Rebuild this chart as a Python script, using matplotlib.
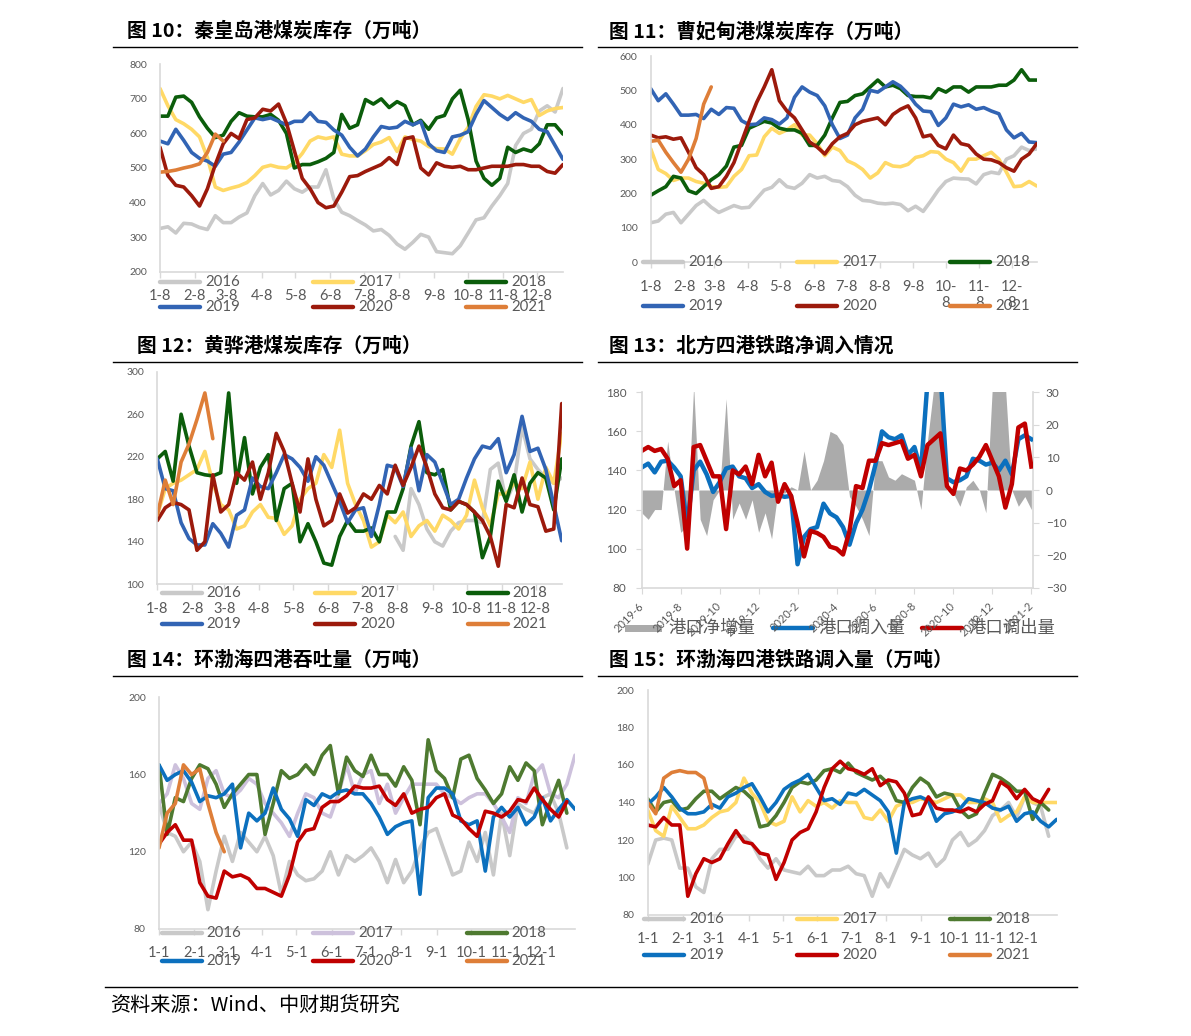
import numpy as np
import matplotlib
matplotlib.use('Agg')
import matplotlib.pyplot as plt

nan = np.nan

# ---------------- data ----------------
years = ['2016', '2017', '2018', '2019', '2020', '2021']

# 图10 秦皇岛港煤炭库存（万吨），weekly from 1-8
qhd_2016 = [325, 330, 312, 340, 338, 328, 322, 362, 342, 342, 358, 370, 420, 455, 422, 435, 462, 440, 430, 445,
            445, 495, 410, 372, 362, 348, 335, 318, 322, 305, 280, 265, 285, 308, 300, 258, 255, 252, 275, 312,
            350, 356, 390, 420, 455, 565, 600, 612, 665, 680, 662, 730]
qhd_2017 = [730, 680, 640, 628, 612, 590, 530, 445, 435, 442, 448, 458, 478, 502, 508, 502, 500, 515, 542, 578,
            590, 585, 590, 540, 535, 535, 550, 568, 575, 588, 548, 590, 582, 578, 562, 556, 555, 540, 585, 618,
            678, 712, 708, 700, 710, 700, 690, 698, 652, 665, 672, 675]
qhd_2018 = [650, 650, 705, 708, 690, 648, 615, 588, 595, 635, 660, 650, 648, 648, 655, 638, 600, 500, 510, 510,
            518, 528, 545, 655, 615, 625, 698, 685, 700, 675, 692, 680, 625, 638, 612, 645, 652, 700, 725, 640,
            520, 470, 450, 470, 560, 545, 555, 548, 570, 625, 625, 598]
qhd_2019 = [578, 570, 612, 580, 545, 528, 520, 505, 540, 545, 575, 610, 645, 640, 645, 635, 625, 635, 635, 660,
            635, 632, 610, 595, 560, 535, 555, 590, 620, 615, 618, 635, 625, 635, 570, 550, 545, 590, 595, 605,
            655, 695, 675, 655, 640, 660, 645, 635, 612, 605, 565, 525]
qhd_2020 = [560, 478, 450, 445, 420, 390, 440, 510, 570, 600, 585, 640, 645, 670, 665, 685, 630, 550, 470, 440,
            400, 385, 390, 430, 475, 478, 490, 500, 510, 530, 510, 585, 590, 500, 480, 515, 505, 502, 505, 495,
            495, 500, 505, 505, 505, 510, 510, 505, 505, 490, 485, 510]
qhd_2021 = [488, 490, 494, 500, 505, 512, 545, 598, 578]

# 图11 曹妃甸港煤炭库存（万吨）
cfd_2016 = [115, 120, 140, 145, 115, 140, 165, 180, 160, 145, 155, 165, 158, 160, 185, 210, 218, 240, 220, 215,
            230, 255, 245, 250, 238, 235, 220, 195, 180, 178, 172, 170, 172, 168, 150, 163, 148, 178, 210, 235,
            245, 243, 242, 228, 255, 262, 258, 300, 310, 335, 325, 330]
cfd_2017 = [330, 270, 258, 238, 245, 245, 235, 230, 220, 218, 220, 250, 270, 310, 312, 365, 390, 375, 385, 400,
            370, 370, 345, 310, 335, 325, 295, 285, 270, 245, 260, 290, 280, 278, 285, 305, 310, 322, 320, 300,
            290, 265, 300, 300, 310, 320, 300, 262, 220, 222, 235, 222]
cfd_2018 = [195, 208, 220, 250, 245, 208, 200, 220, 240, 255, 280, 335, 340, 390, 400, 410, 405, 390, 385, 385,
            375, 340, 340, 370, 420, 465, 468, 485, 490, 510, 530, 510, 515, 505, 485, 482, 482, 478, 505, 495,
            510, 510, 495, 510, 510, 510, 515, 515, 530, 560, 530, 530]
cfd_2019 = [505, 470, 490, 460, 428, 428, 430, 418, 445, 430, 450, 448, 412, 400, 402, 420, 415, 402, 420, 480,
            510, 495, 485, 455, 400, 360, 370, 420, 445, 500, 495, 510, 525, 512, 490, 460, 440, 438, 398, 420,
            460, 452, 458, 445, 450, 440, 432, 385, 362, 375, 350, 348]
cfd_2020 = [370, 362, 365, 358, 362, 320, 275, 255, 215, 220, 250, 290, 350, 410, 465, 510, 560, 470, 440, 420,
            385, 350, 335, 315, 345, 365, 375, 400, 410, 415, 420, 400, 430, 445, 455, 420, 365, 370, 340, 330,
            370, 345, 340, 315, 300, 298, 290, 275, 265, 300, 315, 345]
cfd_2021 = [352, 355, 320, 290, 262, 300, 360, 460, 510]

# 图12 黄骅港煤炭库存（万吨）
hh_2016 = [nan] * 30 + [145, 132, 190, 175, 152, 140, 136, 150, 158, 160, 160, 158, 208, 214, 178, 195, 248, 218,
                        208, 200, 195, 200]
hh_2017 = [165, 190, 195, 198, 203, 208, 225, 195, 175, 170, 152, 155, 168, 175, 163, 162, 147, 155, 180, 190,
           195, 222, 210, 245, 195, 175, 160, 135, 140, 165, 158, 168, 145, 155, 160, 150, 165, 160, 152, 165,
           198, 172, 155, 185, 185, 195, 190, 215, 180, 210, 195, 242]
hh_2018 = [218, 225, 197, 260, 230, 205, 203, 202, 205, 280, 195, 238, 185, 210, 222, 160, 190, 195, 140, 157,
           140, 120, 118, 145, 160, 150, 150, 153, 140, 168, 168, 190, 230, 253, 205, 203, 208, 170, 178, 175,
           168, 125, 145, 197, 178, 203, 168, 195, 205, 200, 170, 218]
hh_2019 = [218, 190, 188, 158, 143, 137, 137, 157, 148, 135, 165, 170, 200, 192, 190, 205, 222, 218, 210, 197,
           220, 212, 195, 178, 158, 170, 172, 145, 175, 212, 210, 192, 228, 188, 222, 215, 195, 175, 180, 200,
           218, 230, 228, 237, 205, 222, 258, 225, 228, 208, 175, 141]
hh_2020 = [160, 172, 177, 175, 170, 132, 140, 203, 168, 175, 205, 198, 215, 180, 205, 242, 225, 195, 168, 218,
           180, 155, 160, 185, 167, 172, 185, 180, 193, 185, 212, 193, 210, 230, 210, 185, 172, 170, 178, 175,
           168, 160, 145, 117, 175, 172, 200, 175, 173, 150, 152, 270]
hh_2021 = [165, 198, 175, 215, 232, 255, 280, 237]

# 图13 北方四港铁路净调入情况, every 1/3 month from 2019-6
port_in = [141.5, 143.5, 139, 144.5, 145, 141.5, 137, 112, 140, 144.5, 138, 129, 134, 141, 142, 137, 136, 131,
           133, 129, 127, 127.5, 126.5, 127, 92, 106, 110, 111, 123, 118, 116, 111, 102, 113, 120, 130, 143,
           160, 157, 156, 158, 148, 152, 140, 185, 200, 190, 136, 134, 135, 137, 146, 145, 143, 144, 140, 145,
           138, 156, 158, 156]
port_out = [150, 152, 150, 151, 146, 132, 135, 100, 152, 153, 145, 137, 137, 110, 140, 138, 142, 133, 148, 137,
            144, 124, 133, 127, 113, 96, 109, 108, 106, 101, 100, 97, 109, 132, 131, 145, 145, 154, 153, 154,
            155, 146, 148, 137, 153, 156, 159, 132, 128, 141, 140, 143, 147, 153, 145, 137, 121, 133, 162, 164,
            142]
port_net = [-7, -9, -6, -6, 15, 0, -13, -11, 32, -9, -14, -3, 0, 28, -9, -4, -9, -3, -13, -7, -15, 0, -1, 1, 0,
            12, 0, 3, 9, 18, 17, 14, -2, -5, -9, -14, 9, 9, 4, 3, 5, 4, 3, -6, 15, 32, 32, 0, -1, -5, 1, 3, 0,
            -7, 32, 32, 32, 0, -5, -2, -6]
month_labels = ['2019-6', '2019-8', '2019-10', '2019-12', '2020-2', '2020-4', '2020-6', '2020-8', '2020-10',
                '2020-12', '2021-2']

# 图14 环渤海四港吞吐量（万吨）
bh_2016 = [145, 130, 128, 120, 125, 115, 90, 110, 128, 115, 130, 125, 120, 128, 118, 98, 115, 108, 105, 106,
           110, 120, 108, 118, 115, 118, 122, 115, 104, 116, 104, 110, 122, 130, 132, 120, 108, 110, 125, 115,
           130, 108, 140, 118, 145, 142, 140, 148, 150, 140, 122]
bh_2017 = [145, 150, 165, 158, 145, 142, 158, 162, 150, 148, 152, 158, 155, 145, 140, 135, 128, 140, 150, 148,
           140, 138, 150, 165, 150, 160, 162, 145, 155, 140, 148, 155, 155, 155, 155, 150, 148, 145, 148, 150,
           150, 145, 138, 130, 148, 145, 160, 165, 150, 148, 155, 170]
bh_2018 = [165, 129, 148, 146, 158, 165, 163, 155, 143, 150, 155, 160, 160, 129, 145, 162, 158, 160, 165, 160,
           170, 175, 150, 169, 162, 159, 170, 160, 160, 154, 164, 157, 134, 178, 162, 158, 148, 168, 170, 158,
           152, 145, 150, 164, 157, 166, 162, 134, 146, 157, 140]
bh_2019 = [165, 157, 160, 162, 156, 146, 149, 148, 150, 155, 122, 140, 136, 140, 153, 142, 137, 128, 147, 144,
           150, 148, 151, 152, 150, 150, 145, 138, 129, 133, 135, 136, 98, 148, 153, 153, 150, 136, 134, 136,
           110, 138, 143, 138, 143, 134, 138, 148, 136, 142, 147, 142]
bh_2020 = [124, 130, 134, 126, 126, 104, 97, 96, 110, 107, 108, 106, 101, 101, 99, 97, 108, 125, 131, 132,
           143, 146, 146, 149, 154, 153, 153, 154, 147, 144, 150, 140, 142, 143, 148, 150, 139, 137, 132, 128,
           141, 140, 138, 141, 147, 146, 153, 147, 142, 138, 146]
bh_2021 = [122, 140, 145, 165, 160, 163, 145, 130, 120]

# 图15 环渤海四港铁路调入量（万吨）
br_2016 = [107, 120, 121, 120, 105, 105, 95, 92, 110, 115, 115, 122, 122, 118, 110, 105, 110, 104, 103, 102,
           106, 101, 101, 104, 104, 106, 102, 101, 90, 102, 95, 105, 115, 112, 110, 113, 106, 110, 120, 124,
           117, 120, 125, 133, 136, 140, 132, 143, 140, 138, 122]
br_2017 = [136, 125, 122, 138, 132, 126, 126, 128, 132, 135, 136, 140, 153, 145, 140, 130, 128, 130, 143, 135,
           141, 138, 140, 137, 141, 140, 140, 132, 131, 136, 130, 138, 140, 140, 142, 141, 140, 142, 144, 144,
           140, 140, 142, 140, 130, 133, 135, 143, 140, 140, 140, 140]
br_2018 = [142, 135, 140, 141, 136, 137, 142, 146, 146, 142, 145, 148, 146, 142, 127, 128, 133, 140, 148, 151,
           150, 152, 157, 158, 156, 161, 156, 154, 152, 154, 150, 141, 140, 148, 153, 150, 143, 145, 144, 136,
           132, 134, 145, 155, 153, 150, 146, 146, 131, 140, 136]
br_2019 = [139, 143, 148, 143, 137, 134, 134, 135, 139, 137, 143, 145, 148, 150, 143, 135, 140, 147, 150, 152,
           155, 148, 141, 142, 139, 145, 144, 147, 144, 141, 135, 113, 140, 142, 143, 141, 130, 134, 135, 137,
           142, 141, 140, 137, 136, 138, 130, 134, 135, 130, 127, 131]
br_2020 = [128, 127, 132, 128, 128, 90, 102, 110, 108, 110, 118, 125, 119, 118, 113, 112, 99, 108, 120, 124,
           126, 135, 148, 158, 162, 158, 157, 155, 158, 149, 152, 151, 145, 133, 134, 143, 137, 136, 136, 135,
           137, 135, 139, 141, 151, 148, 142, 147, 142, 140, 147]
br_2021 = [140, 134, 153, 156, 157, 156, 156, 153, 137]

tick_days = [0, 31, 59, 90, 120, 151, 181, 212, 243, 273, 304, 334]
labels_8 = ['1-8', '2-8', '3-8', '4-8', '5-8', '6-8', '7-8', '8-8', '9-8', '10-8', '11-8', '12-8']
labels_8_wrap = labels_8[:9] + ['10-\n8', '11-\n8', '12-\n8']
labels_1 = ['1-1', '2-1', '3-1', '4-1', '5-1', '6-1', '7-1', '8-1', '9-1', '10-1', '11-1', '12-1']

# ---------------- styling ----------------
W, H = 1191, 1036
fig = plt.figure(figsize=(W / 100, H / 100), dpi=100)

CJK = ['Noto Sans CJK SC', 'DejaVu Sans']
LAT = ['Lato', 'DejaVu Sans']
TXT = '#595959'
AXC = '#D9D9D9'

col_a = ['#C9C9C9', '#FFD966', '#0B5D0B', '#3264B4', '#9C1A0C', '#DE7E38']
col_b = ['#C9C9C9', '#CDC1DC', '#4E7A30', '#0C70BE', '#C00000', '#DE7E38']
col_c = ['#C9C9C9', '#FFD966', '#4E7A30', '#0C70BE', '#C00000', '#DE7E38']


def px_axes(x0, y0, x1, y1):
    return fig.add_axes([x0 / W, 1 - y1 / H, (x1 - x0) / W, (y1 - y0) / H])


def style(ax, ylim, yticks, xmax, xlabels):
    ax.set_xlim(0, xmax)
    ax.set_ylim(*ylim)
    ax.set_yticks(yticks)
    ax.set_xticks(tick_days)
    ax.set_xticklabels(xlabels)
    for s in ['top', 'right']:
        ax.spines[s].set_visible(False)
    for s in ['left', 'bottom']:
        ax.spines[s].set_color(AXC)
        ax.spines[s].set_linewidth(1.2)
    ax.tick_params(axis='y', length=0, pad=9.5, labelsize=7.5, labelcolor=TXT)
    ax.tick_params(axis='x', length=4, width=1, color=AXC, pad=8.5, labelsize=10.5, labelcolor=TXT)
    for lab in ax.get_xticklabels() + ax.get_yticklabels():
        lab.set_family(LAT)
    ax.patch.set_alpha(0)


def plot_years(ax, series, colors, xmax):
    x = np.linspace(0, xmax, 52)
    for vals, c in zip(series, colors):
        ax.plot(x[:len(vals)], vals, color=c, lw=2.6, solid_joinstyle='round', solid_capstyle='round')


# 图10
ax10 = px_axes(160, 64.3, 563, 271.7)
plot_years(ax10, [qhd_2016, qhd_2017, qhd_2018, qhd_2019, qhd_2020, qhd_2021], col_a, 357)
style(ax10, (200, 800), range(200, 801, 100), 357, labels_8)

# 图11
ax11 = px_axes(650.7, 56, 1036.7, 262.3)
plot_years(ax11, [cfd_2016, cfd_2017, cfd_2018, cfd_2019, cfd_2020, cfd_2021], col_a, 357)
style(ax11, (0, 600), range(0, 601, 100), 357, labels_8_wrap)

# 图12
ax12 = px_axes(157.3, 371.7, 561.7, 584.3)
plot_years(ax12, [hh_2016, hh_2017, hh_2018, hh_2019, hh_2020, hh_2021], col_a, 357)
style(ax12, (100, 300), range(100, 301, 40), 357, labels_8)

# 图14
ax14 = px_axes(159, 697.3, 575, 929)
plot_years(ax14, [bh_2016, bh_2017, bh_2018, bh_2019, bh_2020, bh_2021], col_b, 364)
style(ax14, (80, 200), range(80, 201, 40), 364, labels_1)

# 图15
ax15 = px_axes(647.7, 690, 1056.7, 915)
plot_years(ax15, [br_2016, br_2017, br_2018, br_2019, br_2020, br_2021], col_c, 364)
style(ax15, (80, 200), range(80, 201, 20), 364, labels_1)

# 图13
ax13 = px_axes(641.7, 392.3, 1033.3, 587.7)
ax13b = ax13.twinx()
xm = np.arange(len(port_in)) / 3.0
ax13b.fill_between(xm, 0, port_net, color='#ABABAB', lw=0)
ax13b.set_ylim(-30, 30)
ax13b.set_yticks(range(-30, 31, 10))
ax13.plot(xm, port_in, color='#0C70BE', lw=3.2, solid_joinstyle='round')
ax13.plot(xm, port_out, color='#C00000', lw=3.2, solid_joinstyle='round')
ax13.set_zorder(ax13b.get_zorder() + 1)
ax13.patch.set_visible(False)
ax13.set_ylim(80, 180)
ax13.set_yticks(range(80, 181, 20))
ax13.set_xlim(0, 20.1)
ax13.set_xticks(range(0, 21, 2))
ax13.set_xticklabels(month_labels, rotation=45, ha='right', va='center', rotation_mode='anchor')
for a in (ax13, ax13b):
    for s in a.spines.values():
        s.set_visible(False)
ax13.spines['left'].set_visible(True)
ax13.spines['bottom'].set_visible(True)
ax13b.spines['right'].set_visible(True)
for s in (ax13.spines['left'], ax13.spines['bottom'], ax13b.spines['right']):
    s.set_color(AXC)
    s.set_linewidth(1.2)
ax13.tick_params(axis='y', length=4, color=AXC, pad=7, labelsize=8.5, labelcolor=TXT)
ax13.tick_params(axis='x', length=4, color=AXC, pad=8, labelsize=8, labelcolor=TXT)
ax13b.tick_params(axis='y', length=4, color=AXC, pad=5, labelsize=8.5, labelcolor=TXT)
for lab in ax13.get_xticklabels() + ax13.get_yticklabels() + ax13b.get_yticklabels():
    lab.set_family(LAT)

# ---------------- overlay: titles, rules, legends, source ----------------
ov = fig.add_axes([0, 0, 1, 1])
ov.set_xlim(0, W)
ov.set_ylim(H, 0)
ov.axis('off')

titles = [('图 10：秦皇岛港煤炭库存（万吨）', 126.7, 31.7),
          ('图 11：曹妃甸港煤炭库存（万吨）', 609.3, 31.7),
          ('图 12：黄骅港煤炭库存（万吨）', 136.7, 346),
          ('图 13：北方四港铁路净调入情况', 609.3, 346),
          ('图 14：环渤海四港吞吐量（万吨）', 126.7, 660),
          ('图 15：环渤海四港铁路调入量（万吨）', 609.3, 660)]
for t, x, y in titles:
    ov.text(x, y, t, fontsize=14.2, fontweight='bold', family=CJK, ha='left', va='center', color='black')

for x0, x1, y in [(113, 582, 47.3), (598, 1077, 47.3), (113, 582, 361.7), (598, 1077, 361.7),
                  (113, 582, 675.7), (598, 1077, 675.7), (105, 1077, 987)]:
    ov.plot([x0, x1], [y, y], color='black', lw=1.0)

ov.text(110, 1005, '资料来源：Wind、中财期货研究', fontsize=14.5, family=CJK, ha='left', va='center', color='black')


def year_legend(xcols, yrows, colors):
    for i, (lab, c) in enumerate(zip(years, colors)):
        x = xcols[i % 3]
        y = yrows[i // 3]
        ov.plot([x, x + 40], [y, y], color=c, lw=3.2, solid_capstyle='round')
        ov.text(x + 45, y, lab, fontsize=10.8, family=LAT, color=TXT, ha='left', va='center')


year_legend([160, 313, 466], [281.7, 306.7], col_a)
year_legend([643, 797, 950], [262, 306], col_a)
year_legend([161.7, 315, 467.7], [593.3, 624], col_a)
year_legend([161.7, 313, 466.7], [933.3, 961], col_b)
year_legend([644, 797, 950], [919.3, 955], col_c)

# 图13 legend
ov.add_patch(plt.Rectangle((625, 624.5), 37, 7, color='#ABABAB', lw=0))
ov.plot([773, 813], [628, 628], color='#0C70BE', lw=3.2, solid_capstyle='round')
ov.plot([922, 962], [628, 628], color='#C00000', lw=3.2, solid_capstyle='round')
for x, t in [(668, '港口净增量'), (818, '港口调入量'), (968, '港口调出量')]:
    ov.text(x, 628, t, fontsize=12.5, family=CJK, color=TXT, ha='left', va='center')

fig.savefig('out.png', dpi=100)
